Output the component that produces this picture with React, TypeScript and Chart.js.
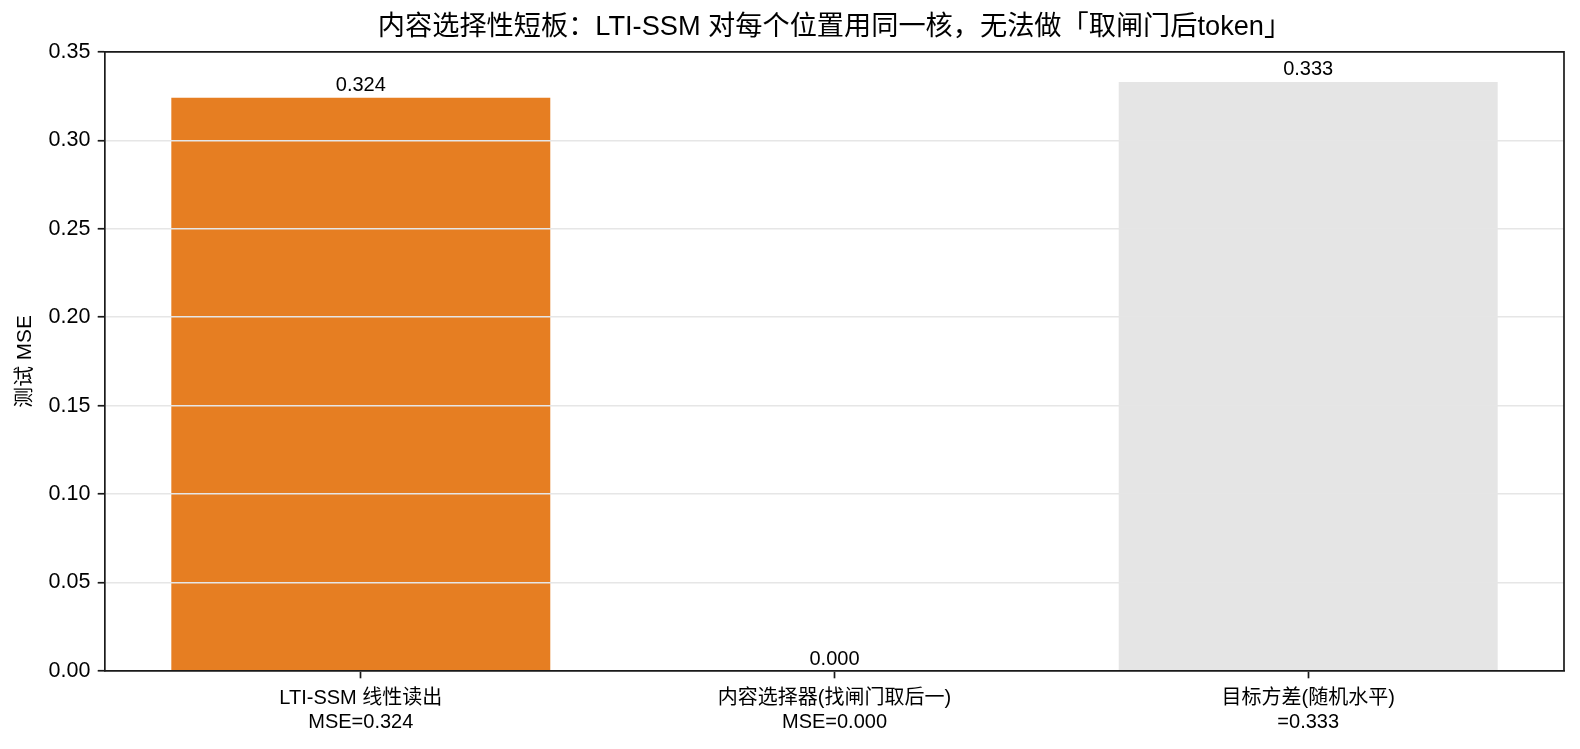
import React, { useEffect, useRef } from "react";
import { Chart, registerables } from "chart.js";

Chart.register(...registerables);

const titleText = "内容选择性短板：LTI-SSM 对每个位置用同一核，无法做「取闸门后token」";
const yAxisTitle = "测试 MSE";
const categories: string[][] = [
  ["LTI-SSM 线性读出", "MSE=0.324"],
  ["内容选择器(找闸门取后一)", "MSE=0.000"],
  ["目标方差(随机水平)", "=0.333"],
];
const mseValues = [0.324, 0.0, 0.333];
const barColors = ["#e67e22", "#4c9be8", "#e5e5e5"];
const yTicks = [0, 0.05, 0.1, 0.15, 0.2, 0.25, 0.3, 0.35];

const FONT = '"Liberation Sans", Arial, "Noto Sans CJK SC", sans-serif';

const framePlugin = {
  id: "frame",
  afterDraw(chart: any) {
    const { ctx, chartArea } = chart;
    ctx.save();
    ctx.strokeStyle = "#1a1a1a";
    ctx.lineWidth = 1.7;
    ctx.beginPath();
    ctx.moveTo(chartArea.left, chartArea.top);
    ctx.lineTo(chartArea.right, chartArea.top);
    ctx.lineTo(chartArea.right, chartArea.bottom);
    ctx.stroke();
    ctx.restore();
  },
};

const valueLabelPlugin = {
  id: "valueLabels",
  afterDraw(chart: any) {
    const { ctx } = chart;
    const meta = chart.getDatasetMeta(0);
    ctx.save();
    ctx.font = `20px ${FONT}`;
    ctx.fillStyle = "#000";
    ctx.textAlign = "center";
    ctx.textBaseline = "alphabetic";
    meta.data.forEach((bar: any, i: number) => {
      const v = mseValues[i];
      ctx.fillText(v.toFixed(3), bar.x, bar.y - 6.5);
    });
    ctx.restore();
  },
};

export default function App() {
  const ref = useRef<HTMLCanvasElement | null>(null);

  useEffect(() => {
    document.body.style.margin = "0";
    const canvas = ref.current;
    if (!canvas) return;
    Chart.defaults.font.family = FONT;
    Chart.defaults.color = "#000";
    const chart = new Chart(canvas, {
      type: "bar",
      data: {
        datasets: [
          {
            data: mseValues.map((v, i) => ({ x: i, y: v })),
            backgroundColor: barColors,
            borderWidth: 0,
            barPercentage: 0.8,
            categoryPercentage: 1,
          },
        ],
      },
      options: {
        responsive: false,
        animation: false,
        devicePixelRatio: 1,
        layout: { padding: { left: 0, right: 16, top: 0, bottom: 0 } },
        plugins: {
          legend: { display: false },
          tooltip: { enabled: false },
          title: {
            display: true,
            text: titleText,
            fullSize: false,
            color: "#000",
            font: { size: 27.2, weight: "normal", family: FONT, lineHeight: 1.2 },
            padding: { top: 11.2, bottom: 8 },
          },
        },
        scales: {
          x: {
            type: "linear",
            min: -0.54,
            max: 2.54,
            offset: false,
            afterBuildTicks: (scale: any) => {
              scale.ticks = categories.map((_, i) => ({ value: i }));
            },
            afterFit: (scale: any) => {
              scale.height = 78;
            },
            ticks: {
              callback: (value: any) => categories[Number(value)] ?? "",
              font: { size: 20, family: FONT, lineHeight: 1.2 },
              color: "#000",
              padding: 7.7,
              maxRotation: 0,
              autoSkip: false,
            },
            grid: {
              offset: false,
              drawOnChartArea: false,
              drawTicks: true,
              tickLength: 7.3,
              tickWidth: 1.7,
              tickColor: "#1a1a1a",
            },
            border: { display: true, color: "#1a1a1a", width: 1.7, z: 2 },
          },
          y: {
            type: "linear",
            min: 0,
            max: 0.35,
            afterBuildTicks: (scale: any) => {
              scale.ticks = yTicks.map((v) => ({ value: v }));
            },
            afterFit: (scale: any) => {
              scale.width = 105;
            },
            ticks: {
              callback: (value: any) => Number(value).toFixed(2),
              font: { size: 21.5, family: FONT },
              color: "#000",
              padding: 7.3,
            },
            grid: {
              z: 1,
              color: "#e6e6e6",
              lineWidth: 1.5,
              drawTicks: true,
              tickLength: 7.3,
              tickWidth: 1.7,
              tickColor: "#1a1a1a",
            },
            border: { display: true, color: "#1a1a1a", width: 1.7, z: 2 },
            title: {
              display: true,
              text: yAxisTitle,
              color: "#000",
              font: { size: 20.8, family: FONT, lineHeight: 1.2 },
              padding: { top: 12.5, bottom: 0 },
            },
          },
        },
      },
      plugins: [framePlugin, valueLabelPlugin],
    } as any);
    return () => chart.destroy();
  }, []);

  return (
    <div style={{ position: "fixed", left: 0, top: 0, width: 1580, height: 749, background: "#fff" }}>
      <canvas ref={ref} width={1580} height={749} style={{ width: 1580, height: 749, display: "block" }} />
    </div>
  );
}
